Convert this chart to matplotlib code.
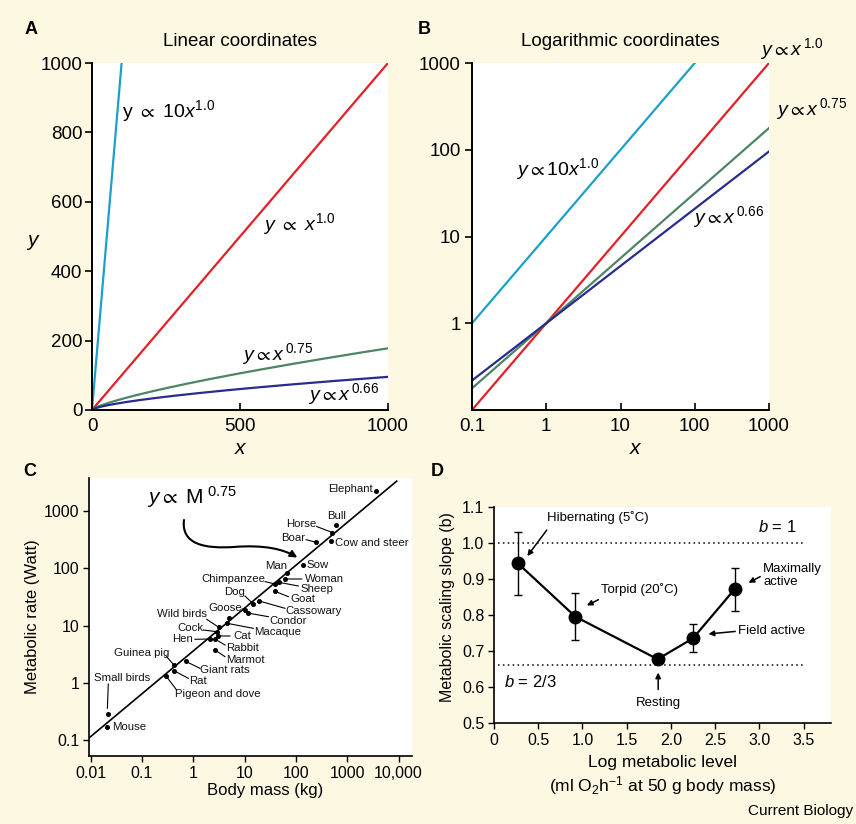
import numpy as np
import matplotlib
matplotlib.use('Agg')
import matplotlib.pyplot as plt
from matplotlib.path import Path
from matplotlib.patches import FancyArrowPatch

plt.rcParams['font.family'] = ['Liberation Sans', 'DejaVu Sans']
plt.rcParams['mathtext.fontset'] = 'custom'
plt.rcParams['mathtext.rm'] = 'Liberation Sans'
plt.rcParams['mathtext.it'] = 'Liberation Sans:italic'
plt.rcParams['mathtext.bf'] = 'Liberation Sans:bold'
plt.rcParams['mathtext.fallback'] = 'stixsans'

# ---------------- data ----------------
# Panels A/B: power laws y = c * x^b
curve_coef = [10, 1, 1, 1]
curve_exp = [1.0, 1.0, 0.75, 0.66]
curve_colors = ['#1ba1c9', '#e41f28', '#4e8466', '#282c8c']
lin_xticks = [0, 500, 1000]
lin_yticks = [0, 200, 400, 600, 800, 1000]
log_xticks = [0.1, 1, 10, 100, 1000]
log_xticklabels = ['0.1', '1', '10', '100', '1000']
log_yticks = [1, 10, 100, 1000]
log_yticklabels = ['1', '10', '100', '1000']

# Panel C: mouse-to-elephant curve
animals = ['Mouse', 'Small birds', 'Pigeon and dove', 'Guinea pig', 'Rat',
           'Giant rats', 'Marmot', 'Rabbit', 'Hen', 'Cat', 'Cock',
           'Wild birds', 'Macaque', '', 'Goose', 'Condor', 'Dog',
           'Cassowary', 'Goat', 'Chimpanzee', 'Sheep', 'Woman', 'Man',
           'Sow', 'Boar', 'Cow and steer', 'Horse', 'Bull', 'Elephant']
mass_kg = [0.0204, 0.0214, 0.29, 0.42, 0.42, 0.71, 2.65, 2.65, 2.12, 3.07,
           2.85, 3.16, 4.47, 5.0, 10.0, 11.5, 14.8, 19.4, 39.2, 39.2, 46.9,
           61.1, 67.6, 135, 245, 490, 513, 617, 3630]
rate_w = [0.17, 0.283, 1.33, 2.04, 1.62, 2.37, 3.74, 5.82, 5.82, 6.58,
          7.83, 9.3, 11.0, 13.4, 19.1, 16.6, 23.9, 26.9, 39.8, 53.5, 57.3,
          65.5, 82.2, 117, 288, 309, 427, 575, 2275]
kleiber_coef = 3.6
kleiber_exp = 0.75
fit_mass_range = [10 ** -2.04, 10 ** 3.965]
mass_ticks = [0.01, 0.1, 1, 10, 100, 1000, 10000]
mass_ticklabels = ['0.01', '0.1', '1', '10', '100', '1000', '10,000']
rate_ticks = [0.1, 1, 10, 100, 1000]
rate_ticklabels = ['0.1', '1', '10', '100', '1000']

# Panel D: scaling slope vs metabolic level
states = ['Hibernating (5˚C)', 'Torpid (20˚C)', 'Resting', 'Field active',
          'Maximally\nactive']
log_level = [0.27, 0.92, 1.85, 2.25, 2.72]
slope_b = [0.943, 0.795, 0.677, 0.735, 0.871]
slope_hi = [1.029, 0.860, 0.677, 0.774, 0.931]
slope_lo = [0.855, 0.731, 0.677, 0.696, 0.811]
ref_slopes = [1.0, 0.66]
d_xticks = [0, 0.5, 1.0, 1.5, 2.0, 2.5, 3.0, 3.5]
d_xticklabels = ['0', '0.5', '1.0', '1.5', '2.0', '2.5', '3.0', '3.5']
d_yticks = [0.5, 0.6, 0.7, 0.8, 0.9, 1.0, 1.1]
d_yticklabels = ['0.5', '0.6', '0.7', '0.8', '0.9', '1.0', '1.1']

# ---------------- figure ----------------
W, H = 856, 824
BG = '#fdf8e2'
fig = plt.figure(figsize=(W / 100, H / 100), dpi=100, facecolor=BG)


def box(l, t, r, b):
    return [l / W, 1 - b / H, (r - l) / W, (b - t) / H]


def ftext(x, y, s, **kw):
    fig.text(x / W, 1 - y / H, s, **kw)


def style(ax, lw=1.4):
    ax.set_facecolor('white')
    for s in ['top', 'right']:
        ax.spines[s].set_visible(False)
    for s in ['left', 'bottom']:
        ax.spines[s].set_linewidth(lw)


# ---- Panel A ----
axA = fig.add_axes(box(92, 63, 388, 410))
style(axA)
xa = np.linspace(0, 1000, 2001)
for c, b, col in zip(curve_coef, curve_exp, curve_colors):
    axA.plot(xa, c * xa ** b, color=col, lw=1.6)
axA.set_xlim(0, 1000)
axA.set_ylim(0, 1000)
axA.set_xticks(lin_xticks)
axA.set_yticks(lin_yticks)
axA.tick_params(axis='y', direction='out', length=5, width=1.2, labelsize=13.5, pad=2)
axA.tick_params(axis='x', direction='in', length=5, width=1.2, labelsize=13.5, pad=6)
axA.text(101, 843, r'$\mathrm{y}\ \propto\ 10\mathit{x}^{1.0}$', fontsize=14, va='baseline')
axA.text(578, 519, r'$\mathit{y}\ \propto\ \mathit{x}^{1.0}$', fontsize=14, va='baseline')
axA.text(507, 144, r'$\mathit{y}\propto\mathit{x}^{\,0.75}$', fontsize=14, va='baseline')
axA.text(730, 29, r'$\mathit{y}\propto\mathit{x}^{\,0.66}$', fontsize=14, va='baseline')
ftext(240, 42, 'Linear coordinates', fontsize=13.5, ha='center', va='center')
ftext(32, 240, 'y', fontsize=15, style='italic', ha='center', va='center')
ftext(240, 448, 'x', fontsize=15, style='italic', ha='center', va='center')
ftext(31, 30, 'A', fontsize=13, weight='bold', ha='center', va='center')

# ---- Panel B ----
axB = fig.add_axes(box(472, 63, 769, 410))
style(axB)
xb = np.logspace(-1, 3, 400)
for c, b, col in zip(curve_coef, curve_exp, curve_colors):
    axB.plot(xb, c * xb ** b, color=col, lw=1.6)
axB.set_xscale('log')
axB.set_yscale('log')
axB.set_xlim(0.1, 1000)
axB.set_ylim(0.1, 1000)
axB.set_xticks(log_xticks)
axB.set_xticklabels(log_xticklabels)
axB.set_yticks(log_yticks)
axB.set_yticklabels(log_yticklabels)
axB.minorticks_off()
axB.tick_params(axis='y', direction='out', length=5, width=1.2, labelsize=13.5, pad=3)
axB.tick_params(axis='x', direction='in', length=5, width=1.2, labelsize=13.5, pad=6)
axB.text(10 ** -0.402, 10 ** 1.712, r'$\mathit{y}\propto 10\mathit{x}^{1.0}$', fontsize=14, va='baseline')
axB.text(10 ** 2.877, 10 ** 3.096, r'$\mathit{y}\propto\mathit{x}^{\,1.0}$', fontsize=14, va='baseline', clip_on=False)
axB.text(10 ** 3.10, 10 ** 2.404, r'$\mathit{y}\propto\mathit{x}^{\,0.75}$', fontsize=14, va='baseline', clip_on=False)
axB.text(10 ** 1.979, 10 ** 1.155, r'$\mathit{y}\propto\mathit{x}^{\,0.66}$', fontsize=14, va='baseline')
ftext(620, 42, 'Logarithmic coordinates', fontsize=13.5, ha='center', va='center')
ftext(635, 448, 'x', fontsize=15, style='italic', ha='center', va='center')
ftext(424, 30, 'B', fontsize=13, weight='bold', ha='center', va='center')

# ---- Panel C ----
axC = fig.add_axes(box(89, 478, 412, 756))
style(axC, lw=1.2)
axC.set_xscale('log')
axC.set_yscale('log')
axC.set_xlim(10 ** -2.033, 10 ** 4.263)
axC.set_ylim(10 ** -1.284, 10 ** 3.585)
fm = np.logspace(np.log10(fit_mass_range[0]), np.log10(fit_mass_range[1]), 50)
axC.plot(fm, kleiber_coef * fm ** kleiber_exp, color='black', lw=1.2)
axC.plot(mass_kg, rate_w, 'o', color='black', ms=2.6, zorder=3)
axC.set_xticks(mass_ticks)
axC.set_xticklabels(mass_ticklabels)
axC.set_yticks(rate_ticks)
axC.set_yticklabels(rate_ticklabels)
axC.minorticks_off()
axC.tick_params(axis='both', direction='out', length=4, width=1.0, labelsize=11.5, pad=3)

# label layout: name -> (text logx, text logy, ha, leader start (logx, logy) or None)
label_layout = {
    'Elephant': (3.509, 3.387, 'right', None),
    'Bull': (2.795, 2.919, 'center', None),
    'Horse': (2.405, 2.779, 'right', (2.405, 2.735)),
    'Boar': (2.177, 2.529, 'right', (2.20, 2.505)),
    'Cow and steer': (2.762, 2.441, 'left', None),
    'Sow': (2.21, 2.061, 'left', None),
    'Man': (1.82, 2.044, 'right', None),
    'Woman': (2.17, 1.816, 'left', (2.113, 1.816)),
    'Chimpanzee': (1.398, 1.816, 'right', (1.40, 1.77)),
    'Sheep': (2.08, 1.635, 'left', (2.047, 1.693)),
    'Dog': (0.813, 1.594, 'center', (1.008, 1.518)),
    'Goat': (1.885, 1.46, 'left', (1.852, 1.507)),
    'Goose': (0.943, 1.303, 'right', (0.95, 1.29)),
    'Cassowary': (1.80, 1.261, 'left', (1.787, 1.303)),
    'Wild birds': (0.261, 1.198, 'right', (0.261, 1.11)),
    'Condor': (1.482, 1.086, 'left', (1.463, 1.156)),
    'Macaque': (1.183, 0.893, 'left', (1.17, 0.952)),
    'Cock': (0.195, 0.952, 'right', (0.195, 0.923)),
    'Hen': (0.0, 0.76, 'right', (0.032, 0.76)),
    'Cat': (0.78, 0.818, 'left', (0.715, 0.818)),
    'Rabbit': (0.637, 0.602, 'left', (0.617, 0.66)),
    'Marmot': (0.637, 0.398, 'left', (0.617, 0.456)),
    'Guinea pig': (-0.474, 0.525, 'right', (-0.52, 0.456)),
    'Giant rats': (0.13, 0.222, 'left', (0.13, 0.251)),
    'Small birds': (-0.83, 0.077, 'right', (-1.657, -0.023)),
    'Rat': (-0.078, 0.03, 'left', (-0.097, 0.077)),
    'Pigeon and dove': (-0.357, -0.198, 'left', (-0.325, -0.128)),
    'Mouse': (-1.59, -0.781, 'left', None),
}
for name, m, r in zip(animals, mass_kg, rate_w):
    if name not in label_layout:
        continue
    tx, ty, ha, lead = label_layout[name]
    axC.text(10 ** tx, 10 ** ty, name, fontsize=8.2, ha=ha, va='center', color='#111111')
    if lead is not None:
        if name == 'Small birds':
            end = (m * 10 ** -0.005, r * 10 ** 0.10)
        else:
            end = (m, r)
        axC.plot([10 ** lead[0], end[0]], [10 ** lead[1], end[1]], color='black', lw=0.8)

axC.text(10 ** -0.908, 10 ** 3.14, r'$\mathit{y}\propto$ M$^{\ 0.75}$', fontsize=15, va='baseline')
verts = [(0.294, 0.849), (0.285, 0.76), (0.36, 0.745), (0.45, 0.752),
         (0.54, 0.76), (0.60, 0.745), (0.645, 0.714)]
codes = [Path.MOVETO, Path.CURVE4, Path.CURVE4, Path.CURVE4,
         Path.CURVE4, Path.CURVE4, Path.CURVE4]
arr = FancyArrowPatch(path=Path(verts, codes), arrowstyle='-|>', mutation_scale=10,
                      lw=1.5, color='black', transform=axC.transAxes)
axC.add_patch(arr)
ftext(33, 617, 'Metabolic rate (Watt)', fontsize=12, rotation=90, ha='center', va='center')
ftext(265, 790, 'Body mass (kg)', fontsize=12, ha='center', va='center')
ftext(30, 472, 'C', fontsize=13, weight='bold', ha='center', va='center')

# ---- Panel D ----
axD = fig.add_axes(box(494, 506.7, 831, 723))
style(axD, lw=1.2)
yerr = [np.array(slope_b) - np.array(slope_lo), np.array(slope_hi) - np.array(slope_b)]
axD.errorbar(log_level, slope_b, yerr=yerr, fmt='none', ecolor='black', elinewidth=1.0,
             capsize=3, capthick=1.0, zorder=2)
axD.plot(log_level, slope_b, '-', color='black', lw=1.6, zorder=3)
axD.plot(log_level, slope_b, 'o', color='black', ms=9, zorder=4)
for b in ref_slopes:
    axD.plot([0.04, 3.5], [b, b], color='black', lw=1.1, ls=(0, (1, 2.2)))
axD.set_xlim(0, 3.81)
axD.set_ylim(0.5, 1.1)
axD.set_xticks(d_xticks)
axD.set_xticklabels(d_xticklabels)
axD.set_yticks(d_yticks)
axD.set_yticklabels(d_yticklabels)
axD.tick_params(axis='both', direction='out', length=4, width=1.0, labelsize=11.5, pad=3)

ann_fs = 9.5
ap = dict(arrowstyle='-|>', lw=1.1, color='black', mutation_scale=8, shrinkA=0, shrinkB=0)
axD.text(0.60, 1.069, states[0], fontsize=ann_fs, ha='left', va='center')
axD.annotate('', xy=(0.377, 0.963), xytext=(0.596, 1.035), arrowprops=ap)
axD.text(1.21, 0.869, states[1], fontsize=ann_fs, ha='left', va='center')
axD.annotate('', xy=(1.05, 0.826), xytext=(1.18, 0.842), arrowprops=ap)
axD.text(1.856, 0.556, states[2], fontsize=ann_fs, ha='center', va='center')
axD.annotate('', xy=(1.856, 0.640), xytext=(1.856, 0.593), arrowprops=ap)
axD.text(2.76, 0.754, states[3], fontsize=ann_fs, ha='left', va='center')
axD.annotate('', xy=(2.425, 0.747), xytext=(2.727, 0.754), arrowprops=ap)
axD.text(3.045, 0.909, states[4], fontsize=ann_fs, ha='left', va='center', linespacing=1.15)
axD.annotate('', xy=(2.878, 0.889), xytext=(3.01, 0.906), arrowprops=ap)
axD.text(2.98, 1.045, r'$\mathit{b}$ = 1', fontsize=12, ha='left', va='center')
axD.text(0.113, 0.614, r'$\mathit{b}$ = 2/3', fontsize=12, ha='left', va='center')

ftext(448, 607, 'Metabolic scaling slope (b)', fontsize=11.5, rotation=90, ha='center', va='center')
ftext(663, 763, 'Log metabolic level', fontsize=12.5, ha='center', va='center')
ftext(663, 786, r'(ml O$_2$h$^{-1}$ at 50 g body mass)', fontsize=12.5, ha='center', va='center')
ftext(437, 472, 'D', fontsize=13, weight='bold', ha='center', va='center')
ftext(853, 811, 'Current Biology', fontsize=11, ha='right', va='center')

fig.savefig('out.png', dpi=100, facecolor=BG)
